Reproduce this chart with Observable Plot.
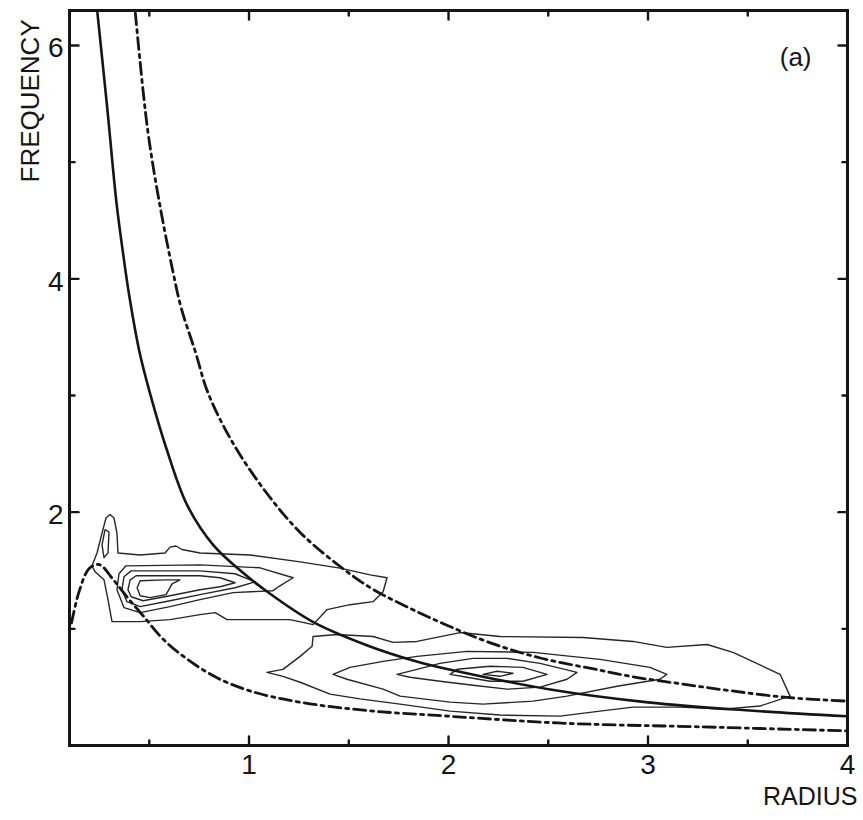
<!DOCTYPE html>
<html>
<head>
<meta charset="utf-8">
<script src="https://cdn.jsdelivr.net/npm/d3@7"></script>
<script src="https://cdn.jsdelivr.net/npm/@observablehq/plot@0.6"></script>
<style>
  html, body { margin: 0; padding: 0; background: #fff; }
  #chart svg { display: block; }
</style>
</head>
<body>
<div id="chart"></div>
<script>
// ---- axis ticks ----
const xTicksMajor = [1, 2, 3, 4];
const xTicksMinor = [0.5, 1.5, 2.5, 3.5];
const yTicksMajor = [2, 4, 6];
const yTicksMinor = [1, 3, 5];
const xLabel = "RADIUS";
const yLabel = "FREQUENCY";
const panelLabel = "(a)";

// ---- curves [radius, frequency] ----
const solidCurve = [[0.24,6.28],[0.29,5.45],[0.335,4.66],[0.37,4.2],[0.40,3.85],[0.45,3.38],[0.505,3.01],[0.585,2.55],[0.69,2.06],[0.82,1.72],[0.97,1.48],[1.09,1.32],[1.32,1.06],[1.59,0.86],[1.84,0.72],[2.01,0.65],[2.51,0.48],[3.0,0.37],[3.51,0.30],[4.0,0.25]];
const upperDashDot = [[0.43,6.28],[0.49,5.3],[0.55,4.66],[0.62,4.05],[0.66,3.75],[0.73,3.38],[0.795,3.02],[0.92,2.59],[1.09,2.16],[1.26,1.82],[1.46,1.53],[1.62,1.34],[1.79,1.19],[1.98,1.04],[2.21,0.88],[2.46,0.75],[2.76,0.645],[2.92,0.59],[3.16,0.53],[3.41,0.47],[3.71,0.41],[4.0,0.38]];
const lowerDashDot = [[0.11,1.05],[0.15,1.33],[0.20,1.52],[0.25,1.55],[0.32,1.42],[0.39,1.27],[0.47,1.11],[0.57,0.91],[0.69,0.74],[0.84,0.58],[1.02,0.46],[1.26,0.37],[1.59,0.30],[2.01,0.25],[2.59,0.19],[3.26,0.16],[4.0,0.125]];

// ---- contours, left group ----
const contourL1 = [[0.313,1.062],[0.293,1.25],[0.273,1.42],[0.228,1.49],[0.213,1.54],[0.238,1.65],[0.263,1.82],[0.283,1.95],[0.303,1.98],[0.323,1.95],[0.338,1.82],[0.343,1.65],[0.454,1.633],[0.579,1.65],[0.604,1.70],[0.634,1.71],[0.664,1.68],[0.754,1.65],[1.005,1.633],[1.256,1.574],[1.456,1.52],[1.607,1.463],[1.692,1.438],[1.672,1.318],[1.622,1.233],[1.506,1.207],[1.391,1.165],[1.321,1.036],[1.206,1.079],[0.955,1.079],[0.89,1.079],[0.83,1.139],[0.754,1.122],[0.604,1.079],[0.454,1.062]];
const contourSpike = [[0.263,1.72],[0.278,1.85],[0.298,1.83],[0.293,1.65],[0.273,1.61]];
const contourL2 = [[0.338,1.335],[0.348,1.472],[0.383,1.54],[0.754,1.548],[1.055,1.523],[1.221,1.438],[1.155,1.369],[1.12,1.327],[0.92,1.31],[0.754,1.25],[0.604,1.19],[0.454,1.139],[0.373,1.182]];
const contourL3 = [[0.363,1.335],[0.373,1.446],[0.409,1.497],[0.754,1.497],[0.93,1.472],[1.03,1.403],[0.93,1.352],[0.754,1.293],[0.604,1.241],[0.454,1.19],[0.388,1.233]];
const contourL4 = [[0.393,1.335],[0.404,1.42],[0.434,1.455],[0.754,1.455],[0.855,1.438],[0.93,1.395],[0.855,1.361],[0.754,1.335],[0.604,1.284],[0.469,1.241],[0.409,1.275]];
const contourL5 = [[0.439,1.352],[0.454,1.412],[0.579,1.42],[0.654,1.42],[0.614,1.386],[0.584,1.293],[0.504,1.267],[0.454,1.284]];

// ---- contours, right group ----
const contourR1 = [[1.09,0.627],[1.17,0.653],[1.256,0.764],[1.316,0.85],[1.321,0.934],[1.441,0.952],[1.622,0.934],[1.722,0.884],[1.842,0.892],[2.058,0.968],[2.258,0.934],[2.674,0.926],[2.925,0.892],[3.094,0.841],[3.296,0.866],[3.426,0.798],[3.662,0.61],[3.712,0.423],[3.561,0.338],[3.376,0.312],[3.16,0.329],[2.925,0.329],[2.759,0.295],[2.559,0.252],[2.258,0.261],[2.008,0.295],[1.757,0.355],[1.556,0.40],[1.406,0.44],[1.256,0.542],[1.17,0.593]];
const contourR2 = [[1.421,0.61],[1.506,0.67],[1.672,0.721],[1.842,0.764],[2.093,0.807],[2.424,0.798],[2.759,0.738],[3.01,0.67],[3.094,0.61],[3.06,0.568],[2.845,0.508],[2.594,0.423],[2.424,0.38],[2.173,0.355],[2.008,0.372],[1.757,0.423],[1.672,0.483],[1.491,0.568]];
const contourR3 = [[1.742,0.61],[1.842,0.653],[1.957,0.704],[2.123,0.747],[2.293,0.747],[2.459,0.704],[2.644,0.627],[2.594,0.568],[2.459,0.5],[2.293,0.483],[2.123,0.517],[1.957,0.551],[1.807,0.585]];
const contourR4 = [[2.008,0.61],[2.043,0.653],[2.208,0.679],[2.373,0.67],[2.494,0.61],[2.373,0.551],[2.208,0.551],[2.093,0.585]];
const contourR5 = [[2.173,0.61],[2.243,0.636],[2.323,0.619],[2.258,0.593]];

const contours = [contourL1, contourSpike, contourL2, contourL3, contourL4, contourL5,
                  contourR1, contourR2, contourR3, contourR4, contourR5];

const ink = "#151515";
const tickShape = {draw(context, l) { context.moveTo(0, 0); context.lineTo(0, -l); }};
const px = d => d[0], py = d => d[1];

function ticks(data, channel, side, len) {
  const rot = {bottom: 0, top: 180, left: 90, right: -90}[side];
  return Plot.vector(data, {
    [channel]: d => d, frameAnchor: side, anchor: "start",
    length: len, rotate: rot, shape: tickShape, stroke: ink, strokeWidth: 2.4
  });
}

const marks = [
  ...contours.map(c => Plot.line(c, {x: px, y: py, curve: "linear-closed", stroke: "#262626", strokeWidth: 1.4})),
  Plot.line(solidCurve, {x: px, y: py, curve: "catmull-rom", stroke: ink, strokeWidth: 2.6, clip: true}),
  Plot.line(upperDashDot, {x: px, y: py, curve: "catmull-rom", stroke: ink, strokeWidth: 2.8, strokeDasharray: "12,5,3,5", clip: true}),
  Plot.line(lowerDashDot, {x: px, y: py, curve: "catmull-rom", stroke: ink, strokeWidth: 2.8, strokeDasharray: "12,5,3,5", clip: true}),
  Plot.frame({stroke: ink, strokeWidth: 3}),
  ticks(xTicksMajor, "x", "bottom", 9), ticks(xTicksMinor, "x", "bottom", 5),
  ticks(xTicksMajor, "x", "top", 9), ticks(xTicksMinor, "x", "top", 5),
  ticks(yTicksMajor, "y", "left", 9), ticks(yTicksMinor, "y", "left", 5),
  ticks(yTicksMajor, "y", "right", 9), ticks(yTicksMinor, "y", "right", 5),
  Plot.text(xTicksMajor, {x: d => d, text: d => String(d), frameAnchor: "bottom", dy: 28, fontSize: 28, fill: ink}),
  Plot.text(yTicksMajor, {y: d => d, text: d => String(d), frameAnchor: "left", dx: -6, dy: 3, textAnchor: "end", fontSize: 28, fill: ink}),
  Plot.text([xLabel], {text: d => d, frameAnchor: "bottom-right", dx: 10, dy: 59, textAnchor: "end", fontSize: 25, fill: ink}),
  Plot.text([panelLabel], {text: d => d, frameAnchor: "top-right", dx: -36, dy: 37, textAnchor: "end", fontSize: 26, fill: ink}),
  Plot.text([yLabel], {text: d => d, frameAnchor: "top-left", dx: -31, dy: 172, rotate: -90, textAnchor: "start", lineAnchor: "bottom", fontSize: 26, fill: ink})
];

const chart = Plot.plot({
  width: 863,
  height: 820,
  marginLeft: 69,
  marginRight: 16,
  marginTop: 10,
  marginBottom: 75,
  x: {domain: [0.1, 4.0], axis: null},
  y: {domain: [0, 6.3], axis: null},
  style: {fontFamily: "'Liberation Sans', Arial, sans-serif", background: "#fff", color: ink, overflow: "visible"},
  marks
});
document.getElementById("chart").appendChild(chart);
</script>
</body>
</html>
